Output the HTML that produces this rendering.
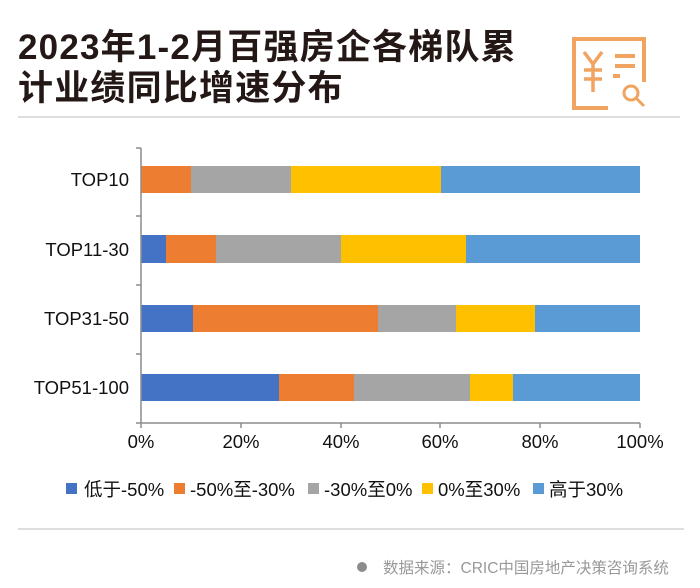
<!DOCTYPE html>
<html><head><meta charset="utf-8"><style>
body{margin:0;background:#fff;}
svg{display:block;font-family:"Liberation Sans","Noto Sans CJK SC",sans-serif;}
</style></head><body>
<svg width="700" height="588" viewBox="0 0 700 588">
<text x="18" y="59" font-size="35" font-weight="bold" fill="#231815" letter-spacing="1.2">2023年1-2月百强房企各梯队累</text>
<text x="18" y="100" font-size="35" font-weight="bold" fill="#231815" letter-spacing="1.2">计业绩同比增速分布</text>
<g fill="none" stroke="#f0a460" stroke-width="4">
<path d="M574 44 V108 H608 M574 44 V39 H644 V82"/>
<line x1="615" y1="56" x2="635" y2="56"/><line x1="615" y1="66" x2="635" y2="66"/><line x1="613" y1="76" x2="620" y2="76"/>
<circle cx="631" cy="93" r="7" stroke-width="3"/><line x1="636" y1="98" x2="644" y2="106" stroke-width="3"/>
<path d="M584 52 L593 64 L602 52 M593 64 V92 M584 70 H602 M584 79 H602" stroke-width="3.5"/>
</g>
<line x1="18" y1="117" x2="680" y2="117" stroke="#bdbdbd" stroke-width="1"/>
<g>
<rect x="141" y="166" width="50" height="27" fill="#ed7d31"/><rect x="191" y="166" width="100" height="27" fill="#a5a5a5"/><rect x="291" y="166" width="150" height="27" fill="#ffc000"/><rect x="441" y="166" width="199" height="27" fill="#5b9bd5"/>
<rect x="141" y="235" width="25" height="28" fill="#4472c4"/><rect x="166" y="235" width="50" height="28" fill="#ed7d31"/><rect x="216" y="235" width="125" height="28" fill="#a5a5a5"/><rect x="341" y="235" width="125" height="28" fill="#ffc000"/><rect x="466" y="235" width="174" height="28" fill="#5b9bd5"/>
<rect x="141" y="305" width="52" height="27" fill="#4472c4"/><rect x="193" y="305" width="185" height="27" fill="#ed7d31"/><rect x="378" y="305" width="78" height="27" fill="#a5a5a5"/><rect x="456" y="305" width="79" height="27" fill="#ffc000"/><rect x="535" y="305" width="105" height="27" fill="#5b9bd5"/>
<rect x="141" y="374" width="138" height="27" fill="#4472c4"/><rect x="279" y="374" width="75" height="27" fill="#ed7d31"/><rect x="354" y="374" width="116" height="27" fill="#a5a5a5"/><rect x="470" y="374" width="43" height="27" fill="#ffc000"/><rect x="513" y="374" width="127" height="27" fill="#5b9bd5"/>
</g>
<g stroke="#8c8c8c" stroke-width="1.5">
<line x1="141" y1="148" x2="141" y2="423"/><line x1="141" y1="423" x2="640" y2="423"/>
<line x1="136" y1="148" x2="141" y2="148"/><line x1="136" y1="216" x2="141" y2="216"/><line x1="136" y1="285" x2="141" y2="285"/><line x1="136" y1="354" x2="141" y2="354"/><line x1="136" y1="423" x2="141" y2="423"/>
<line x1="141" y1="423" x2="141" y2="428"/><line x1="241" y1="423" x2="241" y2="428"/><line x1="341" y1="423" x2="341" y2="428"/><line x1="440" y1="423" x2="440" y2="428"/><line x1="540" y1="423" x2="540" y2="428"/><line x1="640" y1="423" x2="640" y2="428"/>
</g>
<g font-size="18.5" fill="#111" text-anchor="end">
<text x="129" y="186">TOP10</text><text x="129" y="256">TOP11-30</text><text x="129" y="325">TOP31-50</text><text x="129" y="394">TOP51-100</text>
</g>
<g font-size="18.5" fill="#111" text-anchor="middle">
<text x="141" y="448">0%</text><text x="241" y="448">20%</text><text x="341" y="448">40%</text><text x="440" y="448">60%</text><text x="540" y="448">80%</text><text x="640" y="448">100%</text>
</g>
<g font-size="18.5" fill="#111">
<rect x="66" y="483" width="11" height="11" fill="#4472c4"/><text x="84" y="496">低于-50%</text>
<rect x="174" y="483" width="11" height="11" fill="#ed7d31"/><text x="190" y="496">-50%至-30%</text>
<rect x="308" y="483" width="11" height="11" fill="#a5a5a5"/><text x="324" y="496">-30%至0%</text>
<rect x="422" y="483" width="11" height="11" fill="#ffc000"/><text x="438" y="496">0%至30%</text>
<rect x="533" y="483" width="11" height="11" fill="#5b9bd5"/><text x="549" y="496">高于30%</text>
</g>
<line x1="18" y1="529" x2="684" y2="529" stroke="#bdbdbd" stroke-width="1"/>
<circle cx="362" cy="567" r="5" fill="#8c8c8c"/>
<text x="383" y="573" font-size="15.5" fill="#999">数据来源：CRIC中国房地产决策咨询系统</text>
</svg>
</body></html>
